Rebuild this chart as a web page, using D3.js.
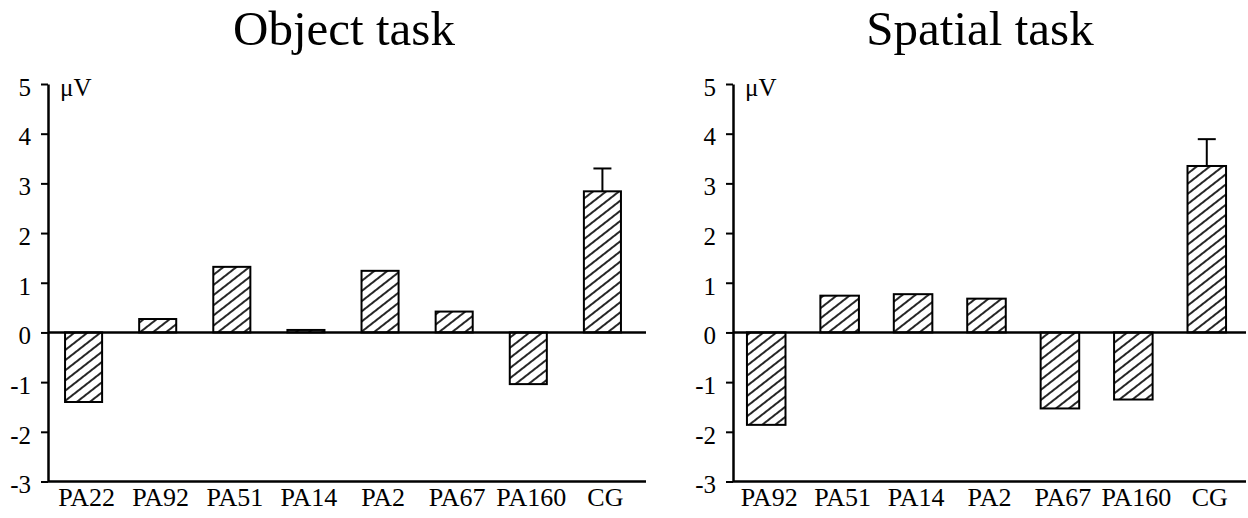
<!DOCTYPE html>
<html>
<head>
<meta charset="utf-8">
<script src="https://cdn.jsdelivr.net/npm/d3@7/dist/d3.min.js"></script>
<style>
  html, body { margin: 0; padding: 0; background: #fff; }
  svg { display: block; }
  svg text { font-family: "Liberation Serif", "Times New Roman", serif !important; fill: #000; }
</style>
</head>
<body>
<svg id="chart" width="1248" height="518"></svg>
<script>
// ---- data ----
const objTitle = "Object task";
const objCats = ["PA22", "PA92", "PA51", "PA14", "PA2", "PA67", "PA160", "CG"];
const objVals = [-1.40, 0.27, 1.32, 0.05, 1.24, 0.42, -1.04, 2.84];
const objErr  = [0, 0, 0, 0, 0, 0, 0, 0.46];

const spaTitle = "Spatial task";
const spaCats = ["PA92", "PA51", "PA14", "PA2", "PA67", "PA160", "CG"];
const spaVals = [-1.86, 0.74, 0.77, 0.68, -1.53, -1.35, 3.35];
const spaErr  = [0, 0, 0, 0, 0, 0, 0.54];

const yTicks = [5, 4, 3, 2, 1, 0, -1, -2, -3];
const yDomain = [-3, 5];
const unitLabel = "\u03bcV";

// ---- drawing ----
const FONT = "'Liberation Serif', 'Times New Roman', serif";
const svg = d3.select("#chart");

const defs = svg.append("defs");
const pat = defs.append("pattern")
  .attr("id", "hatch")
  .attr("patternUnits", "userSpaceOnUse")
  .attr("width", 8).attr("height", 8)
  .attr("patternTransform", "rotate(-38)");
pat.append("rect").attr("width", 8).attr("height", 8).attr("fill", "#fff");
pat.append("line").attr("x1", 0).attr("x2", 8).attr("y1", 4).attr("y2", 4)
  .attr("stroke", "#000").attr("stroke-width", 1.7);

const y = d3.scaleLinear().domain(yDomain).range([481.5, 84]);

function panel(cfg) {
  const g = svg.append("g");
  const x = d3.scaleBand()
    .domain(cfg.cats)
    .range([cfg.axisX, cfg.bandEnd])
    .paddingInner(cfg.pi)
    .paddingOuter(cfg.po);

  // title
  g.append("text")
    .attr("x", cfg.titleX).attr("y", 45)
    .attr("text-anchor", "middle")
    .style("font-family", FONT)
    .style("font-size", "49px")
    .text(cfg.title);

  // y axis
  const yAxis = d3.axisLeft(y).tickValues(yTicks).tickFormat(d3.format("d"))
    .tickSize(7).tickPadding(10).tickSizeOuter(0);
  const ya = g.append("g").attr("transform", `translate(${cfg.axisX},0)`).call(yAxis);
  ya.attr("font-family", null).attr("font-size", null);
  ya.select(".domain").attr("stroke", "#000").attr("stroke-width", 2.5);
  ya.selectAll(".tick line").attr("stroke", "#000").attr("stroke-width", 2);
  ya.selectAll(".tick text")
    .style("font-family", FONT)
    .style("font-size", "25px")
    .attr("dy", "0.45em")
    .text(d => d < 0 ? "-" + Math.abs(d) : d);

  // unit
  g.append("text").attr("x", cfg.axisX + 12).attr("y", 96)
    .style("font-family", FONT)
    .style("font-size", "25px").text(unitLabel);

  // bars
  const data = cfg.cats.map((c, i) => ({ c, v: cfg.vals[i], e: cfg.err[i] }));
  g.selectAll("rect.bar").data(data).enter().append("rect")
    .attr("class", "bar")
    .attr("x", d => x(d.c))
    .attr("width", x.bandwidth())
    .attr("y", d => y(Math.max(0, d.v)))
    .attr("height", d => Math.abs(y(d.v) - y(0)))
    .attr("fill", "url(#hatch)")
    .attr("stroke", "#000")
    .attr("stroke-width", 2);

  // error bars
  const eb = data.filter(d => d.e > 0);
  g.selectAll("line.err").data(eb).enter().append("line")
    .attr("x1", d => x(d.c) + x.bandwidth() / 2)
    .attr("x2", d => x(d.c) + x.bandwidth() / 2)
    .attr("y1", d => y(d.v)).attr("y2", d => y(d.v + d.e))
    .attr("stroke", "#000").attr("stroke-width", 2);
  g.selectAll("line.cap").data(eb).enter().append("line")
    .attr("x1", d => x(d.c) + x.bandwidth() / 2 - 9)
    .attr("x2", d => x(d.c) + x.bandwidth() / 2 + 9)
    .attr("y1", d => y(d.v + d.e)).attr("y2", d => y(d.v + d.e))
    .attr("stroke", "#000").attr("stroke-width", 2);

  // zero line and bottom line
  [0, yDomain[0]].forEach(v => {
    g.append("line")
      .attr("x1", cfg.axisX).attr("x2", cfg.lineEnd)
      .attr("y1", y(v)).attr("y2", y(v))
      .attr("stroke", "#000").attr("stroke-width", 2.5);
  });

  // category labels
  g.selectAll("text.cat").data(cfg.cats).enter().append("text")
    .attr("x", d => x(d) + x.bandwidth() / 2 + 3)
    .attr("y", 506)
    .attr("text-anchor", "middle")
    .style("font-family", FONT)
    .style("font-size", "26px")
    .text(d => d);
}

panel({ title: objTitle, cats: objCats, vals: objVals, err: objErr,
        axisX: 48, bandEnd: 638, pi: 0.5, po: 0.23, lineEnd: 646, titleX: 344 });
panel({ title: spaTitle, cats: spaCats, vals: spaVals, err: spaErr,
        axisX: 733, bandEnd: 1240, pi: 0.475, po: 0.19, lineEnd: 1246, titleX: 980 });
</script>
</body>
</html>
